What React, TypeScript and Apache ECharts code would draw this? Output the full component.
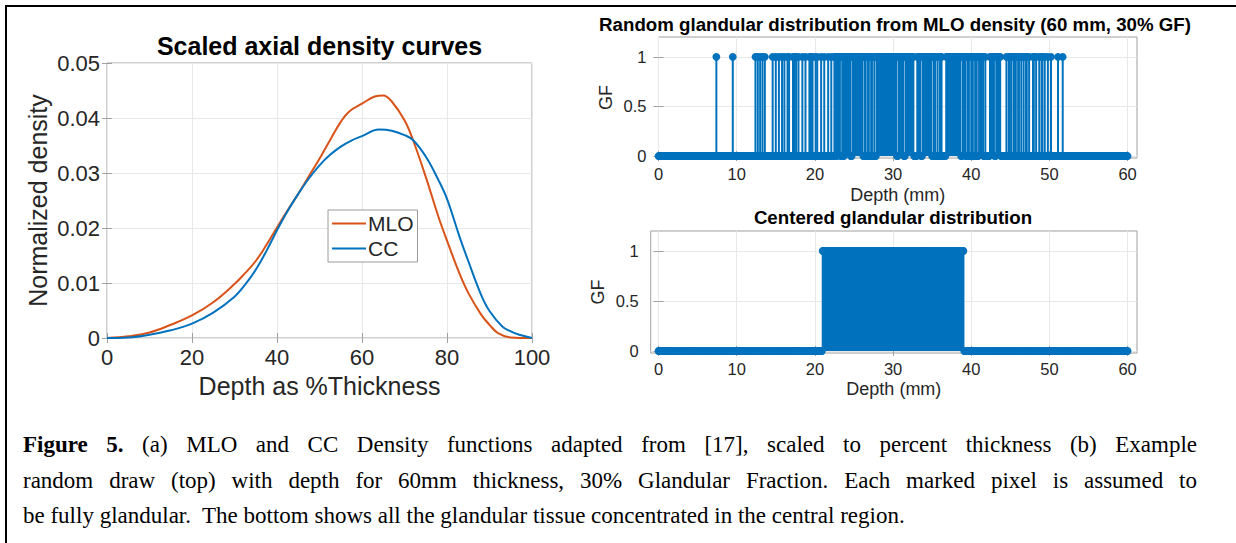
import React, { useEffect, useRef } from 'react';
import * as echarts from 'echarts';

// ---------- Data: scaled axial density curves ----------
const mloDepth = [0, 5, 10, 15, 20, 25, 30, 32.5, 35, 37.5, 40, 42.5, 45, 47.5, 50, 52.5, 55, 57, 60, 63, 65, 67, 70, 72, 75, 78, 80, 83, 85, 88, 90, 92, 95, 100];
const mloDensity = [0, 0.0003, 0.001, 0.0024, 0.0041, 0.0065, 0.0098, 0.0118, 0.014, 0.0169, 0.0201, 0.0232, 0.0262, 0.0294, 0.0326, 0.036, 0.0393, 0.0412, 0.0426, 0.0439, 0.0441, 0.043, 0.0396, 0.036, 0.0293, 0.022, 0.0177, 0.0116, 0.0082, 0.0043, 0.0024, 0.0009, 0.0001, 0];
const ccDepth = [0, 5, 10, 15, 20, 25, 30, 32.5, 35, 37.5, 40, 42.5, 45, 47.5, 50, 52.5, 55, 57.5, 60, 64, 67, 70, 72, 75, 78, 80, 83, 85, 88, 90, 93, 95, 97, 100];
const ccDensity = [0, 0.0001, 0.0006, 0.0014, 0.0026, 0.0046, 0.0075, 0.0097, 0.0124, 0.0158, 0.0196, 0.0231, 0.0262, 0.029, 0.0314, 0.0333, 0.0348, 0.0359, 0.0367, 0.0379, 0.0377, 0.0369, 0.036, 0.033, 0.0287, 0.0253, 0.0183, 0.014, 0.0079, 0.0049, 0.0021, 0.0012, 0.0006, 0];

const leftXTicks = [0, 20, 40, 60, 80, 100];
const leftYTicks = [0, 0.01, 0.02, 0.03, 0.04, 0.05];

// ---------- Data: glandular distributions (pixel pitch 0.1 mm, 0..60 mm) ----------
const pixelPitchMm = 0.1;
const pixelCount = 601;
// runs of glandular pixels [firstPixel, lastPixel]
const randomGlandRuns: number[][] = [
  [74, 74], [95, 95], [124, 124], [127, 127], [130, 130], [133, 133], [136, 136], [146, 146], [150, 150],
  [154, 154], [158, 158], [161, 161], [165, 165], [167, 167], [172, 172], [174, 174], [176, 176], [179, 179],
  [184, 184], [188, 188], [193, 193], [195, 195], [197, 197], [201, 201], [203, 203], [208, 208], [212, 212],
  [217, 217], [221, 221],
  [225, 227], [229, 232], [235, 236], [238, 245], [248, 261], [264, 265], [268, 269], [272, 273], [276, 276],
  [279, 304], [307, 313], [316, 326], [331, 335], [338, 349], [352, 354], [357, 357], [360, 362], [368, 386],
  [389, 392], [395, 397], [400, 402], [405, 407], [410, 415], [418, 418], [424, 429], [432, 437],
  [445, 445], [448, 449], [451, 451], [454, 455], [457, 457], [460, 461], [464, 464], [467, 467], [470, 471],
  [474, 474], [479, 480], [483, 483], [487, 487], [490, 491], [494, 494], [498, 498], [502, 502], [511, 511],
  [517, 517],
];
const centeredGlandRuns: number[][] = [[210, 390]];

const gfTicks = [0, 0.5, 1];
const depthMmTicks = [0, 10, 20, 30, 40, 50, 60];

const captionLine1Bold = 'Figure 5.';
const captionLine1 = ' (a) MLO and CC Density functions adapted from [17], scaled to percent thickness (b) Example';
const captionLine2 = 'random draw (top) with depth for 60mm thickness, 30% Glandular Fraction. Each marked pixel is assumed to';
const captionLine3 = 'be fully glandular.\u00a0 The bottom shows all the glandular tissue concentrated in the central region.';

// ---------- Styling ----------
const BLUE = '#0072BD';
const ORANGE = '#D95319';
const BOX = '#a0a0a0';
const GRIDC = '#e8e8e8';
const TXT = '#262626';
const FONT = '"Liberation Sans", Arial, Helvetica, sans-serif';
const SERIF = '"Liberation Serif", "Times New Roman", Times, serif';

function expandRuns(runs: number[][]): number[][] {
  const out: number[][] = [];
  for (let i = 0; i < pixelCount; i++) {
    const on = runs.some(r => i >= r[0] && i <= r[1]);
    out.push([+(i * pixelPitchMm).toFixed(1), on ? 1 : 0]);
  }
  return out;
}

const stemRender = (params: any, api: any) => {
  const x = api.value(0);
  const v = api.value(1);
  const top = api.coord([x, v]);
  const base = api.coord([x, 0]);
  const children: any[] = [];
  if (v > 0) {
    children.push({
      type: 'line',
      shape: { x1: base[0], y1: base[1], x2: top[0], y2: top[1] },
      style: { stroke: BLUE, lineWidth: 2 },
    });
  }
  children.push({
    type: 'circle',
    shape: { cx: top[0], cy: top[1], r: 3.9 },
    style: { fill: BLUE, stroke: null },
  });
  return { type: 'group', children };
};

function xAxes(gridIndex: number, min: number, max: number, ticks: number[], labelSize: number, labelMargin: number, name: string, nameSize: number, nameGap: number) {
  const common = { type: 'value', gridIndex, min, max, axisLine: { show: false } };
  return [
    {
      ...common,
      position: 'bottom',
      axisTick: { show: true, inside: true, length: 5, customValues: ticks, lineStyle: { color: BOX } },
      axisLabel: { show: true, customValues: ticks, fontSize: labelSize, color: TXT, fontFamily: FONT, margin: labelMargin },
      splitLine: { show: true, lineStyle: { color: GRIDC, width: 1 } },
      name,
      nameLocation: 'middle',
      nameGap,
      nameTextStyle: { fontSize: nameSize, color: TXT, fontFamily: FONT },
    },
    {
      ...common,
      position: 'top',
      axisTick: { show: true, inside: true, length: 5, customValues: ticks, lineStyle: { color: BOX } },
      axisLabel: { show: false, customValues: ticks },
      splitLine: { show: false },
    },
  ];
}

function yAxes(gridIndex: number, min: number, max: number, ticks: number[], labelSize: number, labelMargin: number, name: string, nameSize: number, nameGap: number) {
  const common = { type: 'value', gridIndex, min, max, axisLine: { show: false } };
  return [
    {
      ...common,
      position: 'left',
      axisTick: { show: true, inside: true, length: 5, customValues: ticks, lineStyle: { color: BOX } },
      axisLabel: { show: true, customValues: ticks, fontSize: labelSize, color: TXT, fontFamily: FONT, margin: labelMargin },
      splitLine: { show: true, lineStyle: { color: GRIDC, width: 1 } },
      name,
      nameLocation: 'middle',
      nameGap,
      nameTextStyle: { fontSize: nameSize, color: TXT, fontFamily: FONT },
    },
    {
      ...common,
      position: 'right',
      axisTick: { show: true, inside: true, length: 5, customValues: ticks, lineStyle: { color: BOX } },
      axisLabel: { show: false, customValues: ticks },
      splitLine: { show: false },
    },
  ];
}

export default function App() {
  const ref = useRef<HTMLDivElement>(null);

  useEffect(() => {
    if (!ref.current) return;
    const chart = echarts.init(ref.current, undefined, { renderer: 'svg' });

    const gridBox = { show: true, borderColor: BOX, borderWidth: 1, backgroundColor: 'transparent', containLabel: false };

    const option: any = {
      animation: false,
      backgroundColor: 'transparent',
      textStyle: { fontFamily: FONT },
      grid: [
        { ...gridBox, left: 107, top: 63, width: 425, height: 275 },
        { ...gridBox, left: 658.5, top: 37, width: 478.5, height: 121 },
        { ...gridBox, left: 650.7, top: 231, width: 486.3, height: 122 },
      ],
      xAxis: [
        ...xAxes(0, 0, 100, leftXTicks, 22, 8, 'Depth as %Thickness', 25, 35),
        ...xAxes(1, 0, 61.2, depthMmTicks, 16.5, 7, 'Depth (mm)', 18, 28),
        ...xAxes(2, -1, 61.2, depthMmTicks, 16.5, 7, 'Depth (mm)', 18, 27),
      ],
      yAxis: [
        ...yAxes(0, 0, 0.05, leftYTicks, 22, 7, 'Normalized density', 25, 57),
        ...yAxes(1, -0.02, 1.2, gfTicks, 16.5, 12, 'GF', 18, 44),
        ...yAxes(2, -0.02, 1.2, gfTicks, 16.5, 12, 'GF', 18, 44),
      ],
      legend: {
        orient: 'vertical',
        left: 328,
        top: 210,
        padding: [3, 4, 3, 4],
        itemGap: 4,
        itemWidth: 34,
        itemHeight: 2,
        icon: 'rect',
        borderColor: '#9a9a9a',
        borderWidth: 1,
        backgroundColor: '#ffffff',
        textStyle: { fontSize: 21, color: TXT, fontFamily: FONT, padding: [0, 0, 0, -3] },
        data: ['MLO', 'CC'],
      },
      graphic: [
        {
          type: 'text', x: 319.5, y: 46,
          style: { text: 'Scaled axial density curves', fontSize: 25, fontWeight: 'bold', fontFamily: FONT, fill: '#000', align: 'center', verticalAlign: 'middle' },
        },
        {
          type: 'text', x: 895, y: 24,
          style: { text: 'Random glandular distribution from MLO density (60 mm, 30% GF)', fontSize: 18.7, fontWeight: 'bold', fontFamily: FONT, fill: '#000', align: 'center', verticalAlign: 'middle' },
        },
        {
          type: 'text', x: 893, y: 217,
          style: { text: 'Centered glandular distribution', fontSize: 18.7, fontWeight: 'bold', fontFamily: FONT, fill: '#000', align: 'center', verticalAlign: 'middle' },
        },
      ],
      series: [
        {
          name: 'MLO', type: 'line', xAxisIndex: 0, yAxisIndex: 0,
          data: mloDepth.map((d, i) => [d, mloDensity[i]]),
          smooth: 0.4, symbol: 'none', lineStyle: { color: ORANGE, width: 2 }, itemStyle: { color: ORANGE },
        },
        {
          name: 'CC', type: 'line', xAxisIndex: 0, yAxisIndex: 0,
          data: ccDepth.map((d, i) => [d, ccDensity[i]]),
          smooth: 0.4, symbol: 'none', lineStyle: { color: BLUE, width: 2 }, itemStyle: { color: BLUE },
        },
        {
          type: 'custom', xAxisIndex: 2, yAxisIndex: 2, clip: false,
          data: expandRuns(randomGlandRuns), renderItem: stemRender,
        },
        {
          type: 'custom', xAxisIndex: 4, yAxisIndex: 4, clip: false,
          data: expandRuns(centeredGlandRuns), renderItem: stemRender,
        },
      ],
    };

    chart.setOption(option);
    return () => chart.dispose();
  }, []);

  const lineBase: React.CSSProperties = {
    position: 'absolute', left: 23, width: 1174, height: 36, lineHeight: '36px',
    fontFamily: SERIF, fontSize: 23, color: '#000', whiteSpace: 'normal',
  };

  return (
    <div style={{ position: 'fixed', left: 0, top: 0, width: 1236, height: 543, background: '#fff', overflow: 'hidden' }}>
      <div style={{ position: 'absolute', left: 5, top: 5, width: 1240, height: 560, borderTop: '2px solid #000', borderLeft: '2px solid #000' }} />
      <div ref={ref} style={{ position: 'absolute', left: 0, top: 0, width: 1236, height: 420 }} />
      <div style={{ ...lineBase, top: 427, textAlign: 'justify', textAlignLast: 'justify' }}>
        <b>{captionLine1Bold}</b>{captionLine1}
      </div>
      <div style={{ ...lineBase, top: 463, textAlign: 'justify', textAlignLast: 'justify' }}>{captionLine2}</div>
      <div style={{ ...lineBase, top: 498, textAlign: 'left' }}>{captionLine3}</div>
    </div>
  );
}
